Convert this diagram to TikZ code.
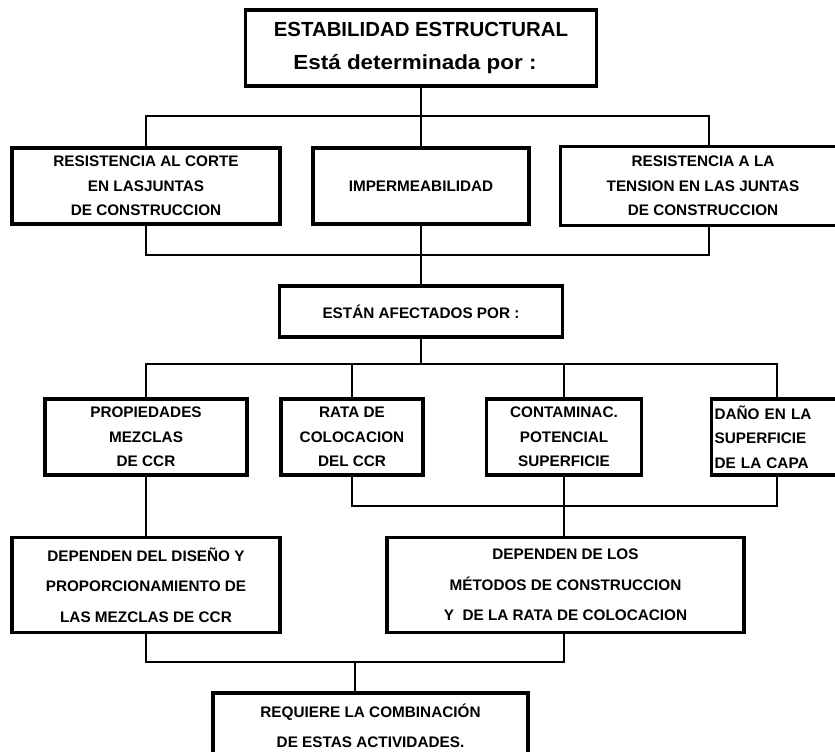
\documentclass[tikz,border=0pt]{standalone}
\usepackage{fontspec}
\setmainfont{Liberation Sans}
\begin{document}
\begin{tikzpicture}[x=1pt,y=-1pt,
  box/.style={draw, line width=3.2pt, inner sep=0pt, align=center,
    font=\bfseries\fontsize{15.3}{24.5}\selectfont},
  tallbox/.style={box, font=\bfseries\fontsize{15.3}{30.5}\selectfont},
  frame/.style={line width=3.2pt},
  link/.style={line width=2pt}]
\useasboundingbox (0,0) rectangle (835,752);
\clip (0,0) rectangle (835,752);

% title
\node[box, minimum width=351pt, minimum height=76pt,
      font=\bfseries\fontsize{20.4}{33}\selectfont] (top) at (421,48)
  {ESTABILIDAD ESTRUCTURAL\\\scalebox{1.1}[1]{Está determinada por :}\hspace*{12pt}};

% first level
\node[box, minimum width=268pt, minimum height=76pt] (resA) at (146,186)
  {RESISTENCIA AL CORTE\\EN LASJUNTAS\\DE CONSTRUCCION};
\node[box, minimum width=216pt, minimum height=76pt] (imp) at (421,186)
  {IMPERMEABILIDAD};
% this box runs past the right margin
\node[box, draw=none, minimum width=282pt, minimum height=76pt] (resC) at (703,186)
  {RESISTENCIA A LA\\TENSION EN LAS JUNTAS\\DE CONSTRUCCION};
\draw[frame] (resC.north west) rectangle ([xshift=40pt]resC.south east);

\node[box, minimum width=283pt, minimum height=51pt] (estan) at (421,311.5)
  {ESTÁN AFECTADOS POR :};

% second level
\node[box, minimum width=202pt, minimum height=76pt] (prop) at (146,437)
  {PROPIEDADES\\MEZCLAS\\DE CCR};
\node[box, minimum width=142pt, minimum height=76pt] (rata) at (352,437)
  {RATA DE\\COLOCACION\\DEL CCR};
\node[box, minimum width=155pt, minimum height=76pt] (cont) at (564,437)
  {CONTAMINAC.\\POTENCIAL\\SUPERFICIE};
\node[box, align=left, inner xsep=3pt, text width=160pt, minimum height=76pt,
      anchor=west] (dano) at (710,437)
  {DAÑO EN LA\\SUPERFICIE\\DE LA CAPA};

% dependencies
\node[tallbox, minimum width=268pt, minimum height=95pt] (dep1) at (146,585)
  {DEPENDEN DEL DISEÑO Y\\PROPORCIONAMIENTO DE\\LAS MEZCLAS DE CCR};
\node[tallbox, minimum width=357pt, minimum height=95pt] (dep2) at (565.5,585)
  {DEPENDEN DE LOS\\MÉTODOS DE CONSTRUCCION\\Y\ \ DE LA RATA DE COLOCACION};

\node[tallbox, font=\bfseries\fontsize{15.3}{30}\selectfont,
      minimum width=315pt, minimum height=66pt] (req) at (370.5,726)
  {REQUIERE LA COMBINACIÓN\\DE ESTAS ACTIVIDADES.};

% bus junctions and drop columns
\coordinate (j1) at (421,116);
\coordinate (j2) at (421,255);
\coordinate (j3) at (421,364);
\coordinate (j4) at (562,506);
\coordinate (j5) at (354.5,662);
\coordinate (cC) at (709,0);
\coordinate (cD) at (777,0);

% connectors
\draw[link] (top.south) -- (j1);
\draw[link] (resA.north) |- (j1) -| (resC.north -| cC);
\draw[link] (j1) -- (imp.north);
\draw[link] (resA.south) |- (j2) -| (resC.south -| cC);
\draw[link] (imp.south) -- (estan.north);

\draw[link] (estan.south) -- (j3);
\draw[link] (prop.north) |- (j3) -| (dano.north -| cD);
\draw[link] (rata.north |- j3) -- (rata.north);
\draw[link] (cont.north |- j3) -- (cont.north);

\draw[link] (prop.south) -- (dep1.north -| prop.south);
\draw[link] (rata.south) |- (j4) -| (dano.south -| cD);
\draw[link] (cont.south) -- (dep2.north -| cont.south);

\draw[link] (dep1.south) |- (j5) -| (dep2.south -| cont.south);
\draw[link] (j5) -- (req.north -| j5);
\end{tikzpicture}
\end{document}
